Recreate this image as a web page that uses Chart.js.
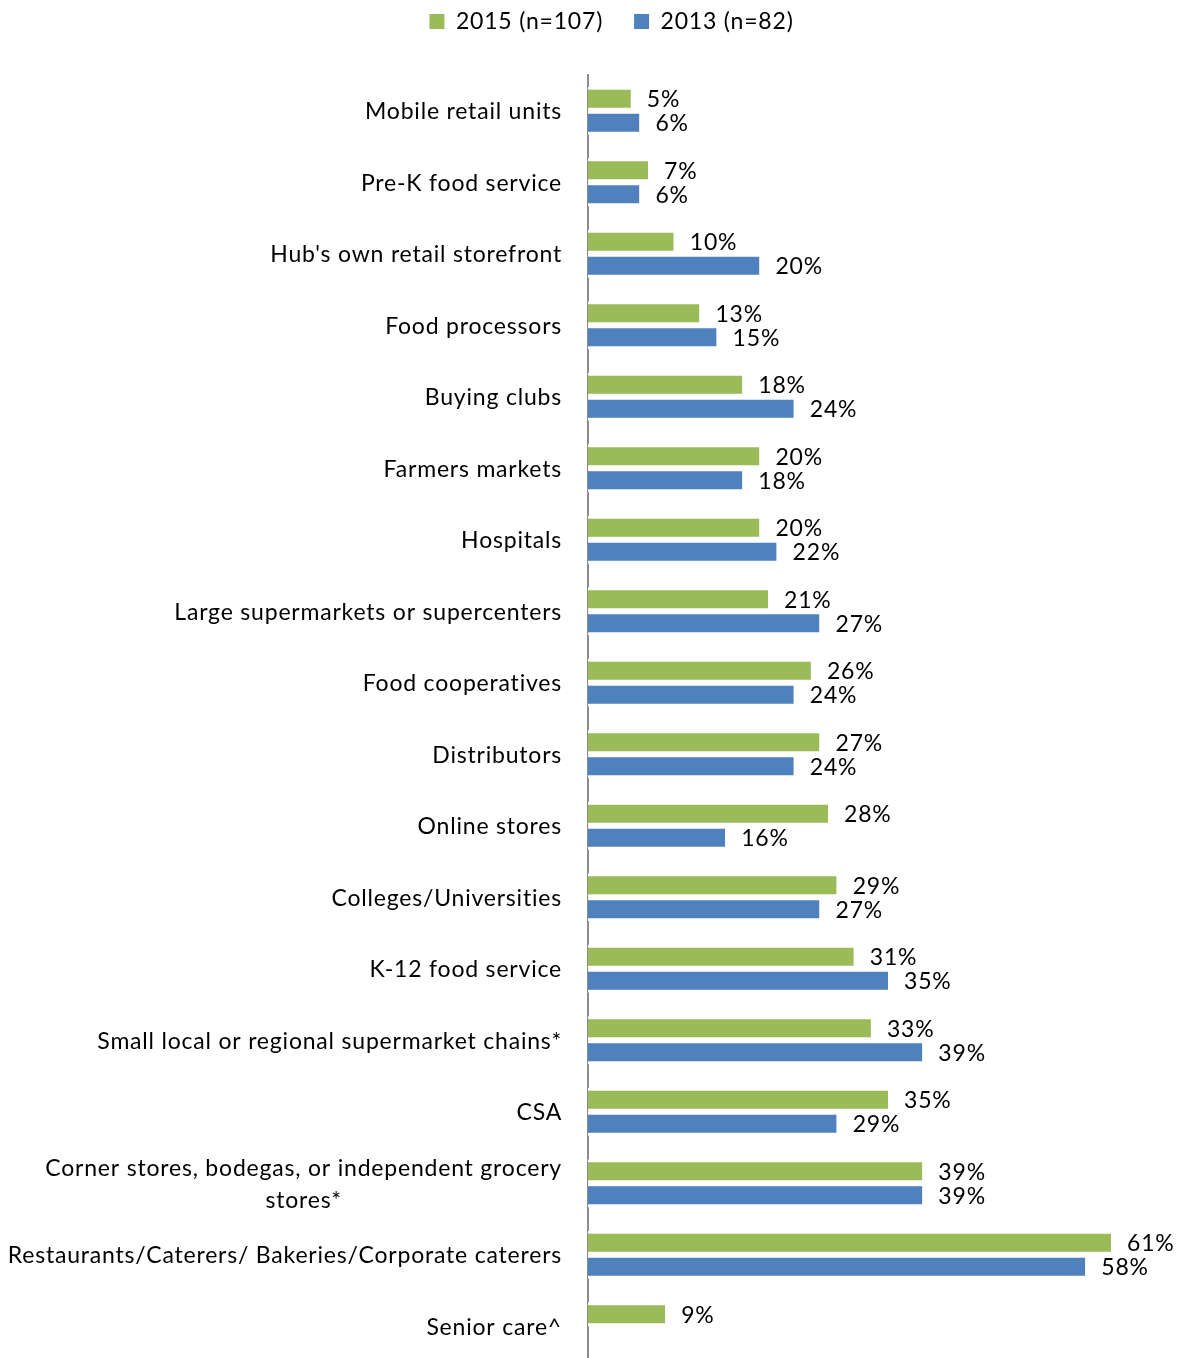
<!DOCTYPE html>
<html>
<head>
<meta charset="utf-8">
<title>Sales outlets</title>
<script src="https://cdn.jsdelivr.net/npm/chart.js@4.4.1/dist/chart.umd.min.js"></script>
<style>
  html, body { margin: 0; padding: 0; background: #fff; overflow: hidden; }
  #wrap { width: 1180px; height: 1362px; }
</style>
</head>
<body>
<div id="wrap"><canvas id="outletChart" width="1180" height="1362"></canvas></div>
<script>
const outlets = [
  'Mobile retail units',
  'Pre-K food service',
  "Hub's own retail storefront",
  'Food processors',
  'Buying clubs',
  'Farmers markets',
  'Hospitals',
  'Large supermarkets or supercenters',
  'Food cooperatives',
  'Distributors',
  'Online stores',
  'Colleges/Universities',
  'K-12 food service',
  'Small local or regional supermarket chains*',
  'CSA',
  ['Corner stores, bodegas, or independent grocery', 'stores*'],
  'Restaurants/Caterers/ Bakeries/Corporate caterers',
  'Senior care^'
];
const share2015 = [5, 7, 10, 13, 18, 20, 20, 21, 26, 27, 28, 29, 31, 33, 35, 39, 61, 9];
const share2013 = [6, 6, 20, 15, 24, 18, 22, 27, 24, 24, 16, 27, 35, 39, 29, 39, 58, null];

const FONT = 'Lato, "Open Sans", sans-serif';
const FONT_SIZE = 23;
const TRACKING = '0.8px';

// slightly looser letter spacing for all canvas text (set after the canvas is sized)
const tracking = {
  id: 'tracking',
  beforeUpdate(chart) {
    chart.ctx.letterSpacing = TRACKING;
  }
};

// wide gap between legend entries, and the plot pushed down below the legend
const legendSpacing = {
  id: 'legendSpacing',
  beforeInit(chart) {
    const fit = chart.legend.fit;
    chart.legend.fit = function () {
      fit.call(this);
      this.height = 75;
    };
  },
  afterLayout(chart) {
    const lg = chart.legend;
    lg.top -= 21;
    lg.left += 26;
    lg.right += 26;
  }
};

// percentage next to the end of every bar
const valueLabels = {
  id: 'valueLabels',
  afterDatasetsDraw(chart) {
    const ctx = chart.ctx;
    ctx.save();
    ctx.font = FONT_SIZE + 'px ' + FONT;
    ctx.fillStyle = '#000';
    ctx.textAlign = 'left';
    ctx.textBaseline = 'middle';
    chart.data.datasets.forEach((ds, i) => {
      chart.getDatasetMeta(i).data.forEach((bar, j) => {
        const v = ds.data[j];
        if (v == null) return;
        ctx.fillText(v + '%', bar.x + 16, bar.y + 1);
      });
    });
    ctx.restore();
  }
};

// category names, right-aligned; wrapped names are centred within their block
const outletLabels = {
  id: 'outletLabels',
  afterDraw(chart) {
    const ctx = chart.ctx;
    const yScale = chart.scales.y;
    const right = chart.chartArea.left - 26;
    ctx.save();
    ctx.font = FONT_SIZE + 'px ' + FONT;
    ctx.fillStyle = '#000';
    ctx.textAlign = 'center';
    ctx.textBaseline = 'middle';
    outlets.forEach((label, i) => {
      const lines = [].concat(label);
      const block = Math.max(...lines.map(l => ctx.measureText(l).width));
      const cy = yScale.getPixelForValue(i);
      lines.forEach((line, k) => {
        ctx.fillText(line, right - block / 2, cy + 1 + (k - (lines.length - 1) / 2) * 32);
      });
    });
    ctx.restore();
  }
};

const barGap = { top: 3, bottom: 3, left: 0, right: 0 };

new Chart(document.getElementById('outletChart'), {
  type: 'bar',
  data: {
    labels: outlets,
    datasets: [
      {
        label: '2015 (n=107)',
        data: share2015,
        backgroundColor: '#9BBB59',
        borderColor: '#ffffff',
        borderWidth: barGap,
        borderSkipped: false
      },
      {
        label: '2013 (n=82)',
        data: share2013,
        backgroundColor: '#4F81BD',
        borderColor: '#ffffff',
        borderWidth: barGap,
        borderSkipped: false
      }
    ]
  },
  options: {
    indexAxis: 'y',
    responsive: false,
    animation: false,
    devicePixelRatio: 1,
    layout: { padding: { left: 0, right: 9, top: 0, bottom: 0 } },
    datasets: { bar: { categoryPercentage: 0.671, barPercentage: 1 } },
    scales: {
      x: { display: false, min: 0, max: 68 },
      y: {
        grid: { display: false },
        border: { display: true, color: '#8c8c8c', width: 2 },
        ticks: { display: false },
        afterFit(scale) { scale.width = 588; }
      }
    },
    plugins: {
      legend: {
        position: 'top',
        labels: {
          boxWidth: 15,
          boxHeight: 15,
          padding: 31,
          color: '#000',
          font: { family: FONT, size: FONT_SIZE },
          generateLabels(chart) {
            return Chart.defaults.plugins.legend.labels.generateLabels(chart)
              .map(item => Object.assign(item, { lineWidth: 0, strokeStyle: item.fillStyle }));
          }
        }
      },
      tooltip: { enabled: false }
    }
  },
  plugins: [tracking, legendSpacing, valueLabels, outletLabels]
});
</script>
</body>
</html>
